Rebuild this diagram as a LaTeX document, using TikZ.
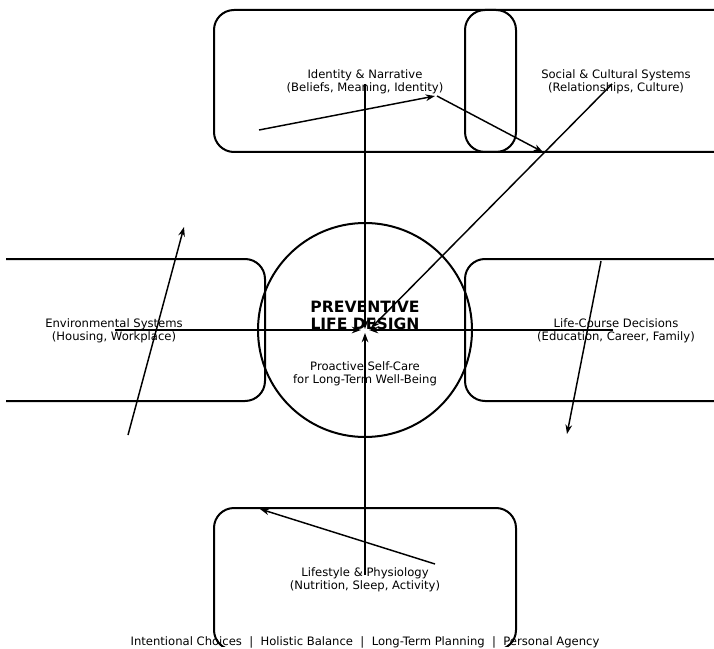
\documentclass[tikz,border=0pt]{standalone}
\usepackage{fontspec}
\setmainfont{DejaVu Sans}
\usetikzlibrary{arrows.meta}
\begin{document}
\begin{tikzpicture}[x=0.75pt,y=-0.75pt,
  boxshape/.style={draw=black,line width=1.5pt,rounded corners=15pt,minimum width=226.5pt,minimum height=106.5pt,inner sep=0pt},
  lbl/.style={font=\fontsize{8.7}{9.75}\selectfont,align=center,inner sep=0pt,text=black},
  ttl/.style={font=\fontsize{11.7}{12.75}\selectfont\bfseries,align=center,inner sep=0pt},
  conn/.style={line width=1.1pt,-{Stealth[length=7pt,width=5pt]}}]
\useasboundingbox (0,0) rectangle (714,649);
\begin{scope}
\clip (6,0) rectangle (714,646);
\node[boxshape] (idbox) at (365,81) {};
\node[boxshape] (socbox) at (616,81) {};
\node[boxshape] (envbox) at (114,330) {};
\node[boxshape] (lcbox) at (616,330) {};
\node[boxshape] (lsbox) at (365,579) {};
\end{scope}
\node[draw=black,line width=1.5pt,circle,minimum size=160.5pt,inner sep=0pt] (core) at (365,330) {};
\node[lbl] (idt) at (365,82) {Identity \& Narrative\\(Beliefs, Meaning, Identity)};
\node[lbl] (soct) at (616,82) {Social \& Cultural Systems\\(Relationships, Culture)};
\node[lbl] (envt) at (114,331) {Environmental Systems\\(Housing, Workplace)};
\node[lbl] (lct) at (616,331) {Life-Course Decisions\\(Education, Career, Family)};
\node[lbl] (lst) at (365,580) {Lifestyle \& Physiology\\(Nutrition, Sleep, Activity)};
\node[ttl] (title) at (365,315) {PREVENTIVE\\LIFE DESIGN};
\node[lbl] (sub) at (365,374) {Proactive Self-Care\\for Long-Term Well-Being};
\node[lbl] (foot) at (365,642) {Intentional Choices\ \ |\ \ Holistic Balance\ \ |\ \ Long-Term Planning\ \ |\ \ Personal Agency};
\coordinate (p1) at (259,130); \coordinate (q1) at (435,96);
\coordinate (p2) at (437,96); \coordinate (q2) at (543,152);
\coordinate (p3) at (612,84); \coordinate (q3) at (371,328);
\coordinate (p4) at (365,84); \coordinate (q4) at (365,329);
\coordinate (p5) at (365,575); \coordinate (q5) at (365,333);
\coordinate (p6) at (115,330); \coordinate (q6) at (361,330);
\coordinate (p7) at (613,330); \coordinate (q7) at (369,330);
\coordinate (p8) at (128,435); \coordinate (q8) at (184,227);
\coordinate (p9) at (601,261); \coordinate (q9) at (567,434);
\coordinate (p10) at (435,564); \coordinate (q10) at (260,509);
\foreach \i in {1,...,10} {\draw[conn] (p\i) -- (q\i);}
\end{tikzpicture}
\end{document}
